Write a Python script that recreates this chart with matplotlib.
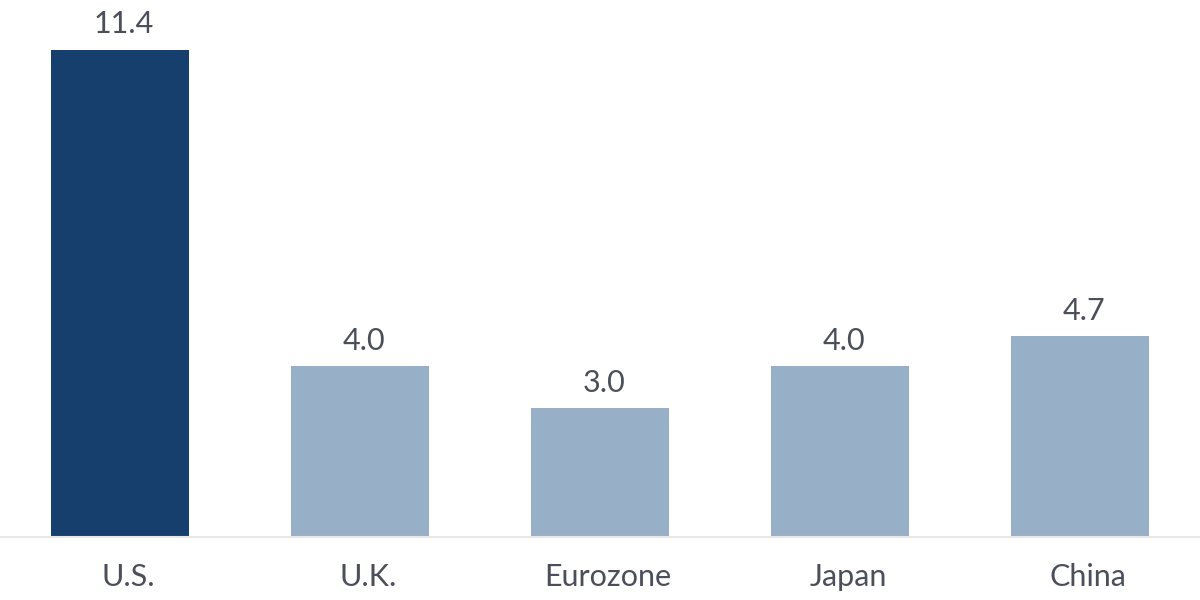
import matplotlib
matplotlib.use("Agg")
import matplotlib.pyplot as plt
import matplotlib.transforms as mtransforms

categories = ["U.S.", "U.K.", "Eurozone", "Japan", "China"]
values = [11.4, 4.0, 3.0, 4.0, 4.7]
labels = ["11.4", "4.0", "3.0", "4.0", "4.7"]
colors = ["#173f6e", "#97b0c8", "#97b0c8", "#97b0c8", "#97b0c8"]

plt.rcParams['font.family'] = ['Lato', 'DejaVu Sans']
text_color = "#4a4f5a"

fig = plt.figure(figsize=(12, 6), dpi=100)
ax = fig.add_axes([0, 63.5/600, 1, 536.5/600])
x = range(len(categories))
bars = ax.bar(x, values, width=0.572, color=colors, zorder=2)
ax.set_xlim(-0.5, 4.5)
ax.set_ylim(0, 12.56)
for xi, v, lab in zip(x, values, labels):
    ax.annotate(lab, (xi, v), xytext=(3, 8), textcoords="offset points",
                ha="center", va="bottom", fontsize=22, color=text_color)
ax.set_xticks(list(x))
ax.set_xticklabels(categories, fontsize=22, color=text_color)
ax.tick_params(axis="x", length=0, pad=19)
shift = mtransforms.ScaledTranslation(8/100, 0, fig.dpi_scale_trans)
for t in ax.get_xticklabels():
    t.set_transform(t.get_transform() + shift)
ax.set_yticks([])
for s in ["top", "right", "left"]:
    ax.spines[s].set_visible(False)
ax.spines["bottom"].set_color("#e8e8e8")
ax.spines["bottom"].set_linewidth(1.5)
fig.savefig("out.png", dpi=100)
